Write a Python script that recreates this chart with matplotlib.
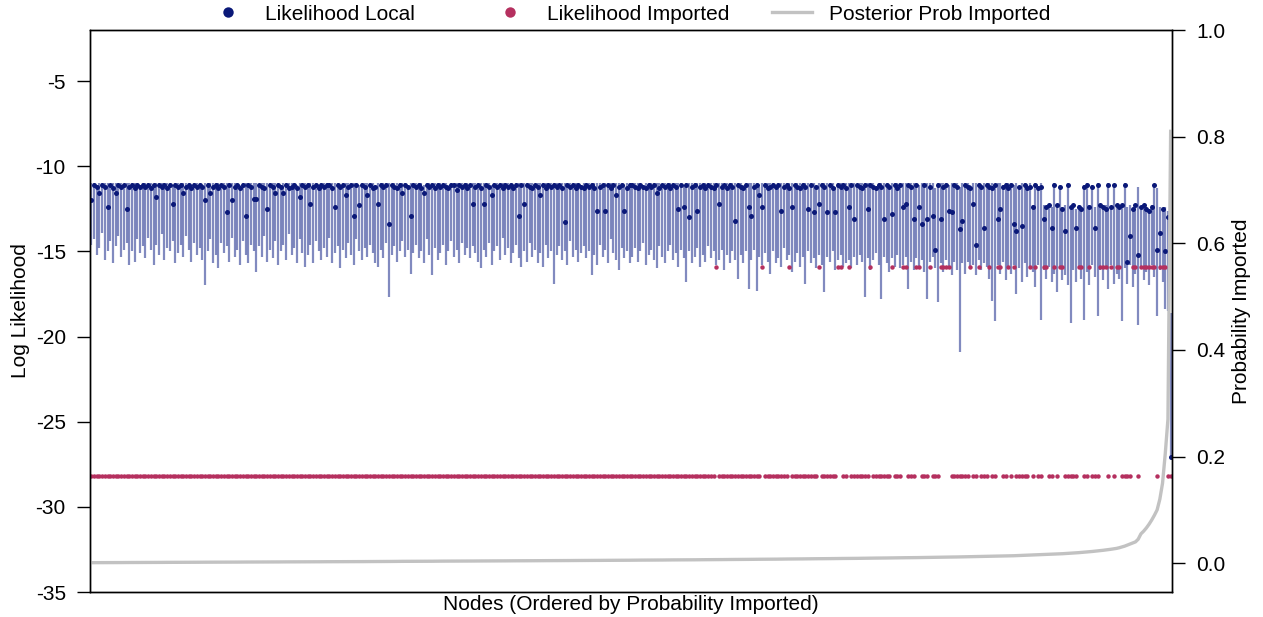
import numpy as np
import matplotlib.pyplot as plt
from matplotlib.lines import Line2D
from matplotlib.ticker import FuncFormatter

plt.rcParams['font.family'] = ['Liberation Sans', 'DejaVu Sans']
plt.rcParams['axes.unicode_minus'] = False


def parse(block, scale):
    return np.array(block.split(), dtype=float) * scale


# local log likelihood per node, in tenths with the sign dropped
# (max of the range, point estimate, min of the range)
local_max = parse("""
110 110 111 110 110 110 110 111 110 110 110 110 111 110 110 110 110 110 111 110
110 110 110 111 110 110 110 110 110 110 111 110 110 110 110 110 110 111 110 110
110 111 110 110 110 110 110 110 111 110 110 110 110 110 110 111 110 110 110 110
110 110 111 110 110 110 110 110 110 110 111 110 110 110 110 110 111 110 110 110
110 110 110 110 111 110 110 110 110 110 110 110 111 110 110 110 110 110 110 111
110 110 110 110 110 111 110 110 110 110 110 112 110 110 110 110 110 111 110 110
110 110 110 111 110 110 110 110 110 110 110 110 111 110 110 110 110 110 110 110
111 110 110 110 110 110 110 110 111 110 110 110 110 110 110 110 111 110 110 110
110 110 110 110 111 110 110 110 110 110 110 110 110 111 110 110 110 110 110 110
110 111 110 110 110 110 110 110 110 111 110 110 110 110 110 110 110 111 110 110
110 110 110 110 111 110 110 110 110 110 110 111 110 110 110 110 110 110 110 111
110 110 110 110 110 110 111 110 110 110 110 110 110 110 111 110 110 110 110 110
110 111 110 110 110 110 110 112 110 110 110 110 110 111 110 110 110 110 110 110
111 110 110 110 110 110 110 110 111 110 110 110 110 110 110 112 110 110 110 110
110 110 110 111 110 110 110 110 110 110 112 110 110 110 110 111 110 110 110 110
110 110 112 110 110 110 111 110 110 110 110 110 113 110 110 110 110 111 110 110
110 112 110 110 110 111 110 110 110 113 110 110 110 110 112 110 110 111 110 110
110 111 110 112 110 110 111 110 123 110 112 110 123 124 123 124 110 123 111 124
123 110 124 123 125 123 124 111 110 123 111 124 110 123 124 123 110 124 111 123
124 123 110 124 123 125 123 112 124 123 124 125 123 111 113 124 125 124 126 186
""", -0.1)

local_pt = parse("""
120 111 112 116 111 112 124 111 113 116 111 112 111 125 112 111 113 111 112 111
112 111 113 111 118 111 112 111 113 111 122 111 112 111 116 112 111 113 111 112
111 112 120 111 116 112 111 113 111 112 127 111 120 112 111 113 111 129 111 112
119 119 111 112 113 125 111 112 116 111 112 116 111 113 112 111 113 118 111 112
111 122 112 111 113 111 112 111 111 113 124 111 112 111 117 112 111 129 111 123
111 112 117 111 113 112 122 111 112 111 134 111 112 113 111 116 111 112 129 111
112 111 113 116 111 112 111 113 111 112 111 112 113 111 111 114 111 112 111 113
111 122 112 111 113 122 111 112 117 111 112 111 113 111 112 111 113 111 129 111
122 111 112 113 111 112 117 111 113 111 112 111 112 111 113 133 111 112 111 113
111 112 113 111 112 111 113 126 112 111 126 111 113 111 117 112 111 126 113 111
111 112 113 111 112 113 111 112 111 116 113 111 112 111 113 111 112 125 111 124
111 130 112 111 126 112 111 113 111 112 113 111 122 112 111 113 111 112 132 111
112 113 111 124 129 112 111 117 124 111 113 112 111 112 111 126 112 111 113 124
111 112 113 111 112 125 111 127 112 122 111 112 127 111 113 127 111 112 111 113
124 111 131 111 112 113 111 125 111 112 113 111 112 131 111 112 128 111 113 111
124 122 111 112 131 111 124 134 111 131 112 129 149 111 131 112 111 126 127 111
112 137 132 111 112 113 122 146 111 112 136 111 112 113 111 131 125 112 111 113
111 134 138 112 135 111 113 112 124 111 113 112 131 124 123 136 111 123 112 125
138 111 124 123 136 124 125 112 111 124 112 136 111 123 124 125 111 124 111 123
124 123 111 156 141 125 123 152 124 123 125 126 124 111 149 139 125 150 130 271
""", -0.1)

local_min = parse("""
146 143 152 148 139 155 150 144 157 147 141 153 149 145 158 150 156 143 151 147
154 142 149 158 146 152 140 155 148 150 144 157 151 146 153 141 149 156 145 152
148 155 170 150 143 157 152 160 145 151 147 156 142 153 149 158 144 152 157 146
150 162 147 153 141 156 149 154 144 158 150 146 155 140 152 148 157 143 151 159
152 146 157 144 150 155 148 153 142 157 151 147 160 149 154 145 152 158 143 150
155 148 153 146 151 157 159 149 154 145 177 152 147 156 150 144 153 149 163 151
146 154 150 157 143 152 164 148 155 151 146 158 150 144 153 149 157 145 152 148
154 147 151 156 160 149 153 145 158 150 147 155 142 152 148 157 151 146 154 159
150 156 145 153 149 157 151 159 146 154 150 169 152 147 155 150 158 144 153 149
156 151 147 154 150 164 152 158 146 153 149 157 143 151 155 161 148 154 150 157
153 148 156 150 145 158 152 149 155 160 147 153 157 150 146 155 151 159 149 154
168 150 157 153 148 159 152 156 147 154 150 158 155 149 161 152 157 150 155 166
152 157 150 172 155 149 173 153 158 151 156 163 150 157 154 159 148 155 152 162
156 151 159 153 169 150 157 154 160 152 158 174 153 156 150 161 155 152 159 157
155 160 153 158 152 156 177 154 161 155 151 158 178 153 157 162 154 159 152 160
158 153 172 156 161 154 159 155 162 178 156 153 160 180 157 162 155 159 164 156
161 209 157 163 156 160 158 164 155 161 157 159 166 179 191 158 163 156 167 160
163 158 175 160 168 157 165 159 162 171 158 190 161 166 159 168 163 174 160 167
164 170 192 161 168 159 166 190 162 170 158 165 188 161 167 160 172 158 169 163
166 191 160 169 158 171 163 193 160 167 162 170 158 165 188 161 168 184 185 271
""", -0.1)

# posterior probability imported, in thousandths (nodes sorted by it)
prob_imported = parse("""
1.0 1.0 1.0 1.1 1.1 1.1 1.1 1.2 1.2 1.2 1.2 1.2 1.3 1.3 1.3 1.3 1.3 1.4 1.4 1.4
1.4 1.5 1.5 1.5 1.5 1.5 1.6 1.6 1.6 1.6 1.7 1.7 1.7 1.7 1.7 1.8 1.8 1.8 1.8 1.8
1.9 1.9 1.9 1.9 1.9 2.0 2.0 2.0 2.0 2.0 2.1 2.1 2.1 2.1 2.1 2.2 2.2 2.2 2.2 2.2
2.3 2.3 2.3 2.3 2.3 2.4 2.4 2.4 2.4 2.4 2.5 2.5 2.5 2.5 2.5 2.6 2.6 2.6 2.6 2.6
2.7 2.7 2.7 2.7 2.7 2.8 2.8 2.8 2.8 2.8 2.9 2.9 2.9 2.9 2.9 3.0 3.0 3.0 3.0 3.0
3.0 3.1 3.1 3.1 3.1 3.2 3.2 3.2 3.3 3.3 3.3 3.3 3.4 3.4 3.4 3.5 3.5 3.5 3.5 3.6
3.6 3.6 3.6 3.7 3.7 3.7 3.7 3.8 3.8 3.8 3.9 3.9 3.9 3.9 4.0 4.0 4.0 4.0 4.1 4.1
4.1 4.1 4.2 4.2 4.2 4.2 4.3 4.3 4.3 4.3 4.4 4.4 4.4 4.4 4.5 4.5 4.5 4.5 4.6 4.6
4.6 4.6 4.7 4.7 4.7 4.7 4.8 4.8 4.8 4.8 4.9 4.9 4.9 4.9 5.0 5.0 5.0 5.0 5.1 5.1
5.1 5.1 5.2 5.2 5.2 5.2 5.3 5.3 5.3 5.4 5.4 5.4 5.4 5.5 5.5 5.5 5.6 5.6 5.6 5.6
5.7 5.7 5.7 5.8 5.8 5.8 5.9 5.9 5.9 6.0 6.0 6.0 6.1 6.1 6.1 6.2 6.2 6.2 6.3 6.3
6.3 6.4 6.4 6.4 6.5 6.5 6.5 6.6 6.6 6.7 6.7 6.7 6.8 6.8 6.9 6.9 6.9 7.0 7.0 7.1
7.1 7.1 7.2 7.2 7.3 7.3 7.3 7.4 7.4 7.5 7.5 7.6 7.6 7.6 7.7 7.7 7.8 7.8 7.9 7.9
8.0 8.0 8.1 8.1 8.2 8.2 8.3 8.3 8.4 8.4 8.5 8.5 8.6 8.6 8.7 8.7 8.8 8.8 8.9 8.9
9.0 9.0 9.1 9.1 9.2 9.3 9.3 9.4 9.4 9.5 9.6 9.6 9.7 9.7 9.8 9.9 9.9 10.0 10.1 10.1
10.2 10.3 10.3 10.4 10.5 10.5 10.6 10.7 10.8 10.8 10.9 11.0 11.1 11.1 11.2 11.3 11.4 11.5 11.5 11.6
11.7 11.8 11.9 12.0 12.1 12.2 12.3 12.4 12.5 12.6 12.7 12.8 12.9 13.0 13.1 13.2 13.4 13.5 13.6 13.7
13.9 14.0 14.2 14.3 14.5 14.6 14.8 15.0 15.2 15.4 15.6 15.8 16.0 16.2 16.4 16.7 16.9 17.2 17.5 17.8
18.1 18.4 18.7 19.0 19.4 19.8 20.2 20.6 21.0 21.5 22.0 22.5 23.0 23.6 24.2 24.8 25.5 26.2 27.0 27.8
29.0 30.5 32.0 34.0 36.0 38.0 40.0 45.0 55.0 60.0 66.0 73.0 81.0 90.0 100 120 150 205 270 810
""", 0.001)

# imported log likelihood takes one of two levels
imp_levels = [-28.2, -15.9]
imp_high_nodes = [232, 249, 259, 270, 277, 278, 281, 289, 297, 301, 302, 306,
                  307, 311, 315, 316, 317, 318, 326, 329, 333, 336, 337, 340,
                  342, 348, 350, 353, 354, 357, 359, 360, 366, 367, 370, 374,
                  375, 376, 378, 380, 381, 386, 387, 389, 390, 391, 392, 393,
                  394, 396, 397, 398]

n = len(local_max)
nodes = np.arange(1, n + 1)
imp_loglik = np.full(n, imp_levels[0])
imp_loglik[np.array(imp_high_nodes) - 1] = imp_levels[1]

col_local = '#0a1878'
col_imp = '#b5305f'
col_prob = '#c2c2c2'

fig = plt.figure(figsize=(12.63, 6.17), dpi=100)
ax = fig.add_axes([90 / 1263, 1 - 592 / 617, 1082 / 1263, 562 / 617])

ax.vlines(nodes, local_min, local_max, color='#1a2a8c', alpha=0.55, lw=1.6)
ax.plot(nodes, local_pt, 'o', color=col_local, ms=3.6, mec='none')
ax.plot(nodes, imp_loglik, 'o', color=col_imp, ms=3.2, mec='none')

ax.set_xlim(0.5, n + 0.5)
ax.set_ylim(-35, -2)
ax.set_yticks(range(-35, -4, 5))
ax.yaxis.set_major_formatter(FuncFormatter(lambda v, p: '%d' % v))
ax.set_xticks([])
ax.tick_params(axis='y', direction='out', length=9.4, width=1, pad=8,
               labelsize=15)
ax.set_xlabel('Nodes (Ordered by Probability Imported)', fontsize=15,
              labelpad=2)
ax.set_ylabel('Log Likelihood', fontsize=15)
ax.yaxis.set_label_coords(-0.055, 0.5)

ax2 = ax.twinx()
ax2.plot(nodes, prob_imported, color=col_prob, lw=2.4)
ax2.set_ylim(-0.054, 1.0)
ax2.set_yticks(np.arange(0, 1.01, 0.2))
ax2.yaxis.set_major_formatter(FuncFormatter(lambda v, p: '%.1f' % v))
ax2.tick_params(axis='y', direction='out', length=9.4, width=1, pad=8,
                labelsize=15)
ax2.set_ylabel('Probability Imported', fontsize=15)
ax2.yaxis.set_label_coords((1232 - 90) / 1082, 0.5)

for a in (ax, ax2):
    for s in a.spines.values():
        s.set_linewidth(1.0)

# legend entries laid out along the top edge
entries = [
    (Line2D([], [], marker='o', ls='none', color=col_local, ms=7.5, mec='none'),
     'Likelihood Local', 207, 2.0),
    (Line2D([], [], marker='o', ls='none', color=col_imp, ms=7.5, mec='none'),
     'Likelihood Imported', 489, 2.0),
    (Line2D([], [], color=col_prob, lw=2.4),
     'Posterior Prob Imported', 772, 1.92),
]
for handle, label, xpx, hl in entries:
    fig.legend([handle], [label], loc='center left',
               bbox_to_anchor=(xpx / 1263, 1 - 14 / 617), frameon=False,
               borderaxespad=0, borderpad=0, handlelength=hl,
               handletextpad=0.8, fontsize=15)

fig.savefig('out.png', dpi=100)
